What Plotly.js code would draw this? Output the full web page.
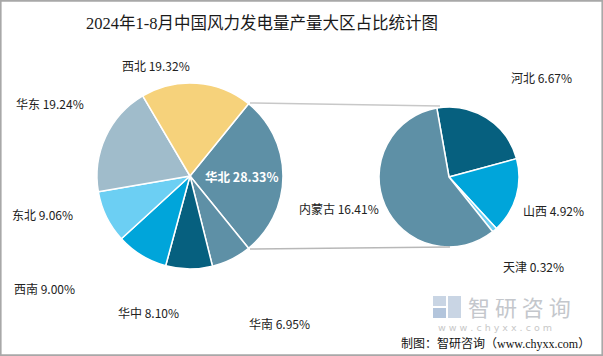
<!DOCTYPE html>
<html>
<head>
<meta charset="utf-8">
<script src="https://cdn.plot.ly/plotly-3.0.1.min.js"></script>
<style>html,body{margin:0;padding:0;background:#fff;}#chart{width:603px;height:356px;}</style>
</head>
<body>
<div id="chart"></div>
<script>
// ---- data ----
const regionNames = ['华北', '华南', '华中', '西南', '东北', '华东', '西北'];
const regionValues = [28.33, 6.95, 8.10, 9.00, 9.06, 19.24, 19.32];
const subNames = ['河北', '山西', '天津', '内蒙古'];
const subValues = [6.67, 4.92, 0.32, 16.41];
const titleText = '2024年1-8月中国风力发电量产量大区占比统计图';
const sourceText = '制图：智研咨询（www.chyxx.com）';

// ---- styles / layout helpers ----
const W = 603, H = 356;
const regionColors = ['#5e90a6', '#5e90a6', '#06607f', '#00a5da', '#6ccff3', '#a0bccb', '#f6d27b'];
const subColors = ['#06607f', '#00a5da', '#6ccff3', '#5e90a6'];
// label anchor points (left x, center y) in pixels
const regionLabelPos = [[203, 177], [247, 323], [116, 312], [12, 288], [10, 214], [14, 103], [120, 65]];
const subLabelPos = [[509, 77], [521, 210], [501, 266], [297, 208]];

const px = x => x / W;
const py = y => 1 - y / H;

const mainPie = {
  type: 'pie', labels: regionNames, values: regionValues, sort: false,
  direction: 'clockwise', rotation: 39,
  marker: {colors: regionColors, line: {color: '#ffffff', width: 1.5}},
  textinfo: 'none', hoverinfo: 'none', showlegend: false,
  domain: {x: [px(97), px(283)], y: [py(269), py(83)]}
};
const subPie = {
  type: 'pie', labels: subNames, values: subValues, sort: false,
  direction: 'clockwise', rotation: -10,
  marker: {colors: subColors, line: {color: '#ffffff', width: 1.5}},
  textinfo: 'none', hoverinfo: 'none', showlegend: false,
  domain: {x: [px(379), px(519)], y: [py(247), py(107)]}
};

const labelFont = {family: 'Noto Sans CJK SC, sans-serif', size: 12, color: '#222'};
const annotations = [];
regionNames.forEach((n, i) => {
  annotations.push({
    xref: 'paper', yref: 'paper', x: px(regionLabelPos[i][0]), y: py(regionLabelPos[i][1]),
    xanchor: 'left', yanchor: 'middle', showarrow: false,
    text: n + ' ' + regionValues[i].toFixed(2) + '%',
    font: i === 0 ? {family: labelFont.family, size: 12.5, color: '#ffffff', weight: 'bold'} : labelFont
  });
});
subNames.forEach((n, i) => {
  annotations.push({
    xref: 'paper', yref: 'paper', x: px(subLabelPos[i][0]), y: py(subLabelPos[i][1]),
    xanchor: 'left', yanchor: 'middle', showarrow: false,
    text: n + ' ' + subValues[i].toFixed(2) + '%', font: labelFont
  });
});
// watermark
annotations.push({xref: 'paper', yref: 'paper', x: px(466), y: py(306), xanchor: 'left', yanchor: 'middle',
  showarrow: false, text: '智 研 咨 询', font: {family: 'Noto Sans CJK SC, sans-serif', size: 22, color: '#c4c7cc'}});
annotations.push({xref: 'paper', yref: 'paper', x: px(436), y: py(327), xanchor: 'left', yanchor: 'middle',
  showarrow: false, text: 'w w w . c h y x x . c o m', font: {family: 'DejaVu Sans, sans-serif', size: 9.5, color: '#c8c8c8'}});
// source
annotations.push({xref: 'paper', yref: 'paper', x: px(399), y: py(343), xanchor: 'left', yanchor: 'middle',
  showarrow: false, text: sourceText, font: {family: 'Liberation Serif, Noto Sans CJK SC, serif', size: 12, color: '#111'}});

const shapes = [
  // connector lines
  {type: 'line', xref: 'paper', yref: 'paper', x0: px(250), y0: py(103), x1: px(440), y1: py(106), line: {color: '#c8c8c8', width: 1.5}},
  {type: 'line', xref: 'paper', yref: 'paper', x0: px(250), y0: py(249), x1: px(450), y1: py(247), line: {color: '#b8b8b8', width: 1.5}},
  // watermark logo
  {type: 'rect', xref: 'paper', yref: 'paper', x0: px(433), y0: py(296), x1: px(446), y1: py(306), fillcolor: '#c9d5e4', line: {width: 0}},
  {type: 'rect', xref: 'paper', yref: 'paper', x0: px(433), y0: py(308), x1: px(446), y1: py(318), fillcolor: '#b3c5dc', line: {width: 0}},
  {type: 'rect', xref: 'paper', yref: 'paper', x0: px(448), y0: py(296), x1: px(461), y1: py(318), fillcolor: '#c9d5e4', line: {width: 0}},
  // border
  {type: 'rect', xref: 'paper', yref: 'paper', x0: 0.001, y0: 0.002, x1: 0.999, y1: 0.998, line: {color: '#a8a8a8', width: 2}}
];

const layout = {
  width: W, height: H, margin: {l: 0, r: 0, t: 0, b: 0},
  paper_bgcolor: '#ffffff', plot_bgcolor: '#ffffff',
  title: {text: titleText, x: px(262), xref: 'paper', xanchor: 'center', y: py(23), yref: 'container', yanchor: 'middle',
    font: {family: 'Liberation Serif, Noto Sans CJK SC, serif', size: 16.5, color: '#1a1a1a', weight: 'normal'}},
  annotations: annotations, shapes: shapes, showlegend: false
};

Plotly.newPlot('chart', [mainPie, subPie], layout, {staticPlot: true, displayModeBar: false});
</script>
</body>
</html>
